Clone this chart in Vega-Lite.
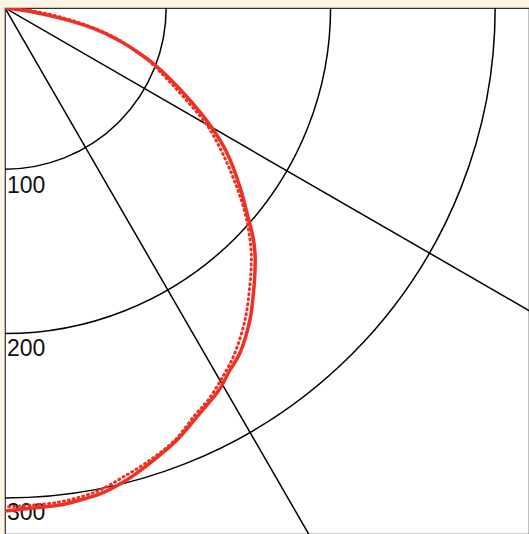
{
  "$schema": "https://vega.github.io/schema/vega-lite/v6.json",
  "autosize": {"type": "none"},
  "padding": {"left": 5, "top": 8, "right": 0, "bottom": 0},
  "width": 524,
  "height": 526,
  "background": "#fdf5e6",
  "config": {"view": {"fill": "white", "stroke": "#333333", "strokeWidth": 1.2}},
  "datasets": {
    "circles": [{"r": 100, "label": "100"}, {"r": 200, "label": "200"}, {"r": 300, "label": "300"}],
    "spokes": [
      {"angle": 30, "x": 0, "y": 0, "x2": 346.4, "y2": 200},
      {"angle": 60, "x": 0, "y": 0, "x2": 200, "y2": 346.4}
    ],
    "solid": [
      {"i": 0, "x": 0, "y": 0},
      {"i": 1, "x": 17.1, "y": 2.4},
      {"i": 2, "x": 37.9, "y": 7.3},
      {"i": 3, "x": 58.1, "y": 14.1},
      {"i": 4, "x": 70.3, "y": 20.2},
      {"i": 5, "x": 78.3, "y": 25.1},
      {"i": 6, "x": 88.7, "y": 32.4},
      {"i": 7, "x": 100.9, "y": 43.4},
      {"i": 8, "x": 113.1, "y": 56.3},
      {"i": 9, "x": 125.4, "y": 71.6},
      {"i": 10, "x": 135.8, "y": 88.7},
      {"i": 11, "x": 143.7, "y": 109.5},
      {"i": 12, "x": 148.6, "y": 127.8},
      {"i": 13, "x": 151.4, "y": 138.8},
      {"i": 14, "x": 152.9, "y": 149.8},
      {"i": 15, "x": 152.9, "y": 160.2},
      {"i": 16, "x": 152.3, "y": 170.6},
      {"i": 17, "x": 149.8, "y": 190.8},
      {"i": 18, "x": 143.7, "y": 211.0},
      {"i": 19, "x": 137.6, "y": 221.4},
      {"i": 20, "x": 130.9, "y": 233.6},
      {"i": 21, "x": 119.3, "y": 247.7},
      {"i": 22, "x": 105.2, "y": 264.2},
      {"i": 23, "x": 88.7, "y": 278.3},
      {"i": 24, "x": 73.4, "y": 289.3},
      {"i": 25, "x": 58.1, "y": 297.2},
      {"i": 26, "x": 45.9, "y": 300.9},
      {"i": 27, "x": 33.6, "y": 304.0},
      {"i": 28, "x": 17.1, "y": 305.8},
      {"i": 29, "x": 0, "y": 307.6}
    ],
    "dotted": [
      {"i": 0, "x": 0, "y": 0},
      {"i": 1, "x": 17.1, "y": 1.8},
      {"i": 2, "x": 37.9, "y": 6.7},
      {"i": 3, "x": 58.1, "y": 13.8},
      {"i": 4, "x": 70.3, "y": 19.9},
      {"i": 5, "x": 78.3, "y": 25.1},
      {"i": 6, "x": 88.7, "y": 33.0},
      {"i": 7, "x": 99.7, "y": 44.0},
      {"i": 8, "x": 111.9, "y": 57.5},
      {"i": 9, "x": 123.5, "y": 71.6},
      {"i": 10, "x": 132.7, "y": 88.1},
      {"i": 11, "x": 141.3, "y": 108.3},
      {"i": 12, "x": 147.4, "y": 127.8},
      {"i": 13, "x": 150.5, "y": 148.0},
      {"i": 14, "x": 150.5, "y": 160.2},
      {"i": 15, "x": 149.8, "y": 169.4},
      {"i": 16, "x": 146.8, "y": 190.8},
      {"i": 17, "x": 140.1, "y": 212.2},
      {"i": 18, "x": 132.7, "y": 226.3},
      {"i": 19, "x": 124.2, "y": 239.8},
      {"i": 20, "x": 116.2, "y": 248.9},
      {"i": 21, "x": 104.0, "y": 264.2},
      {"i": 22, "x": 88.7, "y": 276.5},
      {"i": 23, "x": 72.2, "y": 286.9},
      {"i": 24, "x": 58.1, "y": 294.8},
      {"i": 25, "x": 45.9, "y": 299.1},
      {"i": 26, "x": 33.6, "y": 302.1},
      {"i": 27, "x": 17.1, "y": 304.0},
      {"i": 28, "x": 0, "y": 305.2}
    ]
  },
  "layer": [
    {
      "data": {"name": "circles"},
      "mark": {"type": "arc", "filled": false, "stroke": "black", "strokeWidth": 1.5, "theta": 0, "theta2": 6.2832, "clip": true},
      "encoding": {
        "x": {"datum": 0, "type": "quantitative", "scale": {"domain": [0, 320.5], "nice": false, "zero": false}, "axis": null},
        "y": {"datum": 0, "type": "quantitative", "scale": {"domain": [0, 321.7], "nice": false, "zero": false, "reverse": true}, "axis": null},
        "radius": {"field": "r", "type": "quantitative", "stack": null, "scale": {"type": "linear", "domain": [2, 300], "range": [0, 490], "zero": false, "nice": false}, "legend": null}
      }
    },
    {
      "data": {"name": "spokes"},
      "mark": {"type": "rule", "color": "black", "strokeWidth": 1.5, "clip": true},
      "encoding": {
        "x": {"field": "x", "type": "quantitative", "axis": null},
        "y": {"field": "y", "type": "quantitative", "axis": null},
        "x2": {"field": "x2"},
        "y2": {"field": "y2"}
      }
    },
    {
      "data": {"name": "circles"},
      "mark": {"type": "text", "align": "left", "baseline": "alphabetic", "dx": 2, "dy": 21, "fontSize": 23, "font": "Liberation Sans", "color": "#111111"},
      "encoding": {
        "x": {"datum": 0, "type": "quantitative", "axis": null},
        "y": {"field": "r", "type": "quantitative", "axis": null},
        "text": {"field": "label"}
      }
    },
    {
      "data": {"name": "dotted"},
      "mark": {"type": "line", "color": "#ee3124", "strokeWidth": 3, "strokeDash": [1, 4], "strokeCap": "round", "interpolate": "catmull-rom", "clip": true},
      "encoding": {
        "x": {"field": "x", "type": "quantitative", "axis": null},
        "y": {"field": "y", "type": "quantitative", "axis": null},
        "order": {"field": "i", "type": "quantitative"}
      }
    },
    {
      "data": {"name": "solid"},
      "mark": {"type": "line", "color": "#ee3124", "strokeWidth": 3.5, "interpolate": "catmull-rom", "clip": true},
      "encoding": {
        "x": {"field": "x", "type": "quantitative", "axis": null},
        "y": {"field": "y", "type": "quantitative", "axis": null},
        "order": {"field": "i", "type": "quantitative"}
      }
    }
  ]
}
